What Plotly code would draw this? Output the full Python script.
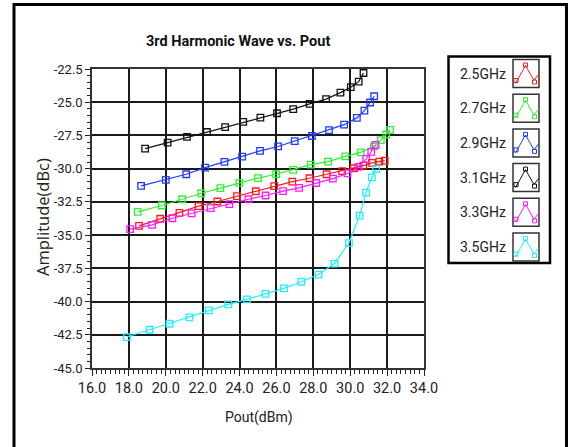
import plotly.graph_objects as go

# ---------------- data ----------------
names = ["2.5GHz", "2.7GHz", "2.9GHz", "3.1GHz", "3.3GHz", "3.5GHz"]
colors = ["#ff1a1a", "#33ee33", "#1f3cff", "#111111", "#ff1aff", "#22eeff"]

x_25 = [18.55, 19.70, 20.74, 21.78, 22.80, 23.86, 24.88, 25.88, 26.86, 27.79, 28.72, 29.56, 30.20, 30.71, 31.18, 31.58, 31.87]
y_25 = [-34.30, -33.77, -33.33, -32.82, -32.47, -32.07, -31.70, -31.32, -30.97, -30.72, -30.42, -30.19, -29.97, -29.77, -29.57, -29.47, -29.39]

x_27 = [18.48, 19.79, 20.89, 21.93, 22.96, 23.99, 25.00, 25.98, 26.91, 27.86, 28.80, 29.73, 30.57, 31.28, 31.66, 31.95, 32.16]
y_27 = [-33.25, -32.77, -32.30, -31.85, -31.47, -31.07, -30.71, -30.42, -30.09, -29.70, -29.47, -29.07, -28.77, -28.34, -27.85, -27.43, -27.08]

x_29 = [18.66, 20.00, 21.11, 22.13, 23.18, 24.14, 25.11, 26.09, 26.99, 27.92, 28.85, 29.67, 30.36, 30.77, 31.08, 31.30]
y_29 = [-31.29, -30.84, -30.42, -29.92, -29.49, -29.09, -28.66, -28.33, -27.92, -27.54, -27.10, -26.69, -26.18, -25.63, -25.02, -24.55]

x_31 = [18.88, 20.10, 21.15, 22.23, 23.22, 24.20, 25.13, 26.03, 26.91, 27.80, 28.69, 29.47, 30.03, 30.46, 30.72]
y_31 = [-28.49, -28.04, -27.61, -27.24, -26.88, -26.48, -26.16, -25.83, -25.52, -25.12, -24.77, -24.28, -23.87, -23.45, -22.80]

x_33 = [18.07, 19.26, 20.36, 21.40, 22.43, 23.45, 24.48, 25.41, 26.36, 27.23, 28.16, 29.06, 29.85, 30.45, 30.87, 31.14, 31.37]
y_33 = [-34.55, -34.23, -33.73, -33.37, -32.97, -32.67, -32.30, -32.02, -31.69, -31.45, -31.08, -30.75, -30.36, -29.86, -29.27, -28.74, -28.22]

x_35 = [17.89, 19.12, 20.20, 21.28, 22.33, 23.39, 24.40, 25.40, 26.41, 27.35, 28.28, 29.15, 29.93, 30.51, 30.86, 31.17, 31.40]
y_35 = [-42.67, -42.12, -41.67, -41.19, -40.67, -40.21, -39.84, -39.42, -39.01, -38.51, -37.97, -37.14, -35.60, -33.53, -31.80, -30.66, -30.04]

series_x = [x_25, x_27, x_29, x_31, x_33, x_35]
series_y = [y_25, y_27, y_29, y_31, y_33, y_35]

x_ticks = [16, 18, 20, 22, 24, 26, 28, 30, 32, 34]
y_ticks = [-45.0, -42.5, -40.0, -37.5, -35.0, -32.5, -30.0, -27.5, -25.0, -22.5]

# ---------------- layout constants ----------------
W, H = 570, 447
L, R, T, B = 92, 424, 69, 368
FONT = "Roboto, sans-serif"
TXT = "#222222"

def px(xp):
    return (xp - L) / (R - L)

def py(yp):
    return (B - yp) / (B - T)

fig = go.Figure()
order = [3, 2, 1, 0, 4, 5]
for i in order:
    fig.add_trace(go.Scatter(
        x=series_x[i], y=series_y[i], mode="lines+markers", name=names[i],
        line=dict(color=colors[i], width=1.2),
        marker=dict(symbol="square-open", size=6.5, color=colors[i], line=dict(width=1.3)),
        showlegend=False,
    ))

shapes = []
annotations = []

# outer frame
shapes.append(dict(type="rect", xref="paper", yref="paper",
                   x0=px(14), x1=px(566.5), y0=py(470), y1=py(4.5),
                   line=dict(color="black", width=3), layer="below"))

# legend box
shapes.append(dict(type="rect", xref="paper", yref="paper",
                   x0=px(448.5), x1=px(550), y0=py(263), y1=py(56.5),
                   line=dict(color="black", width=2.5)))

row_h = 34.7
for k in range(6):
    y0 = 59.5 + row_h * k
    c = colors[k]
    shapes.append(dict(type="rect", xref="paper", yref="paper",
                       x0=px(513), x1=px(539), y0=py(y0 + 28), y1=py(y0),
                       line=dict(color="#333333", width=1.5)))
    pts = [(515.5, y0 + 24), (525.5, y0 + 6), (534, y0 + 21), (538.5, y0 + 15)]
    path = "M " + " L ".join(f"{px(a):.5f},{py(b):.5f}" for a, b in pts)
    shapes.append(dict(type="path", xref="paper", yref="paper", path=path,
                       line=dict(color=c, width=1)))
    for (a, b) in [(516, y0 + 21), (525.5, y0 + 5.5), (534.5, y0 + 22.5)]:
        shapes.append(dict(type="rect", xref="paper", yref="paper",
                           x0=px(a - 2), x1=px(a + 2), y0=py(b + 2), y1=py(b - 2),
                           line=dict(color=c, width=1)))
    annotations.append(dict(text=names[k], xref="paper", yref="paper",
                            x=px(483), y=py(y0 + 14), showarrow=False,
                            xanchor="center", yanchor="middle",
                            font=dict(family=FONT, size=14, color=TXT)))

# title
annotations.append(dict(text="<b>3rd Harmonic Wave vs. Pout</b>", xref="paper", yref="paper",
                        x=px(238), y=py(41), showarrow=False, xanchor="center", yanchor="middle",
                        font=dict(family=FONT, size=14.5, color="#111111")))
# axis titles
annotations.append(dict(text="Pout(dBm)", xref="paper", yref="paper",
                        x=px(259), y=py(418), showarrow=False, xanchor="center", yanchor="middle",
                        font=dict(family=FONT, size=14, color=TXT)))
annotations.append(dict(text="Amplitude(dBc)", xref="paper", yref="paper", textangle=-90,
                        x=px(42), y=py(217), showarrow=False, xanchor="center", yanchor="middle",
                        font=dict(family="Open Sans, sans-serif", size=16.5, color=TXT)))

fig.update_layout(
    width=W, height=H,
    margin=dict(l=L, r=W - R, t=T, b=H - B, pad=0),
    paper_bgcolor="white", plot_bgcolor="white",
    shapes=shapes, annotations=annotations,
    showlegend=False,
)

fig.update_xaxes(
    range=[16, 34], tickvals=x_ticks, ticktext=[f"{v:.1f}" for v in x_ticks],
    showgrid=True, gridcolor="#1a1a1a", gridwidth=1.6,
    showline=True, linecolor="#333333", linewidth=1.5, mirror=True,
    ticks="outside", ticklen=6, tickcolor="#222222", tickwidth=1,
    minor=dict(dtick=0.25, tick0=16, ticks="outside", ticklen=4, tickcolor="#222222", showgrid=False),
    tickfont=dict(family=FONT, size=14.5, color=TXT),
    zeroline=False,
)
fig.update_yaxes(
    range=[-45, -22.5], tickvals=y_ticks, ticktext=[f"{v:.1f}" for v in y_ticks],
    showgrid=True, gridcolor="#1a1a1a", gridwidth=1.6,
    showline=True, linecolor="#333333", linewidth=1.5, mirror=True,
    ticks="outside", ticklen=5, tickcolor="#222222", tickwidth=1,
    minor=dict(dtick=0.5, tick0=-45, ticks="outside", ticklen=3, tickcolor="#222222", showgrid=False),
    tickfont=dict(family=FONT, size=13, color=TXT),
    zeroline=False,
)

fig.write_html("out.html", config={"displayModeBar": False},
               post_script="document.body.style.margin='0px';")
